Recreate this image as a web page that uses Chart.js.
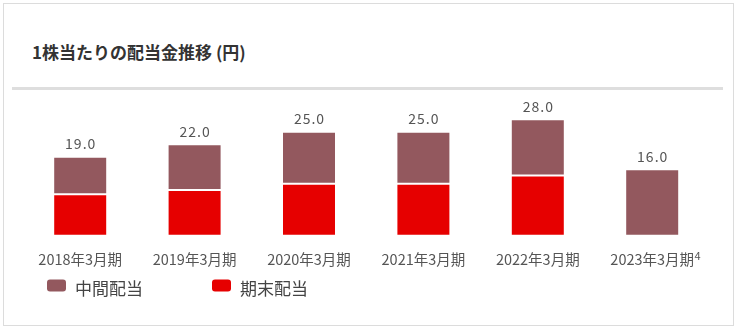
<!DOCTYPE html>
<html><head><meta charset="utf-8">
<script src="https://cdn.jsdelivr.net/npm/chart.js@4.4.1/dist/chart.umd.min.js"></script>
<style>
html,body{margin:0;padding:0;background:#fff;}
#wrap{position:relative;width:735px;height:329px;overflow:hidden;font-family:"Noto Sans CJK JP","Noto Sans",sans-serif;}
#card{position:absolute;left:3px;top:3px;width:731px;height:323px;border:1px solid #dcdcdc;box-sizing:border-box;}
#title{position:absolute;left:32px;top:40px;font-size:17px;line-height:24px;font-weight:bold;color:#333;white-space:nowrap;}
#sep{position:absolute;left:12px;top:87px;width:711px;height:3px;background:#dedede;}
#c{position:absolute;left:0;top:0;}
</style>
</head><body>
<div id="wrap">
  <div id="card"></div>
  <div id="title">1株当たりの配当金推移 (円)</div>
  <div id="sep"></div>
  <canvas id="c" width="735" height="329"></canvas>
</div>
<script>
const categories = ['2018年3月期', '2019年3月期', '2020年3月期', '2021年3月期', '2022年3月期', '2023年3月期'];
const footnoteMarks = ['', '', '', '', '', '4'];
const interimDividend = [9, 11, 12.5, 12.5, 13.5, 16];
const yearEndDividend = [10, 11, 12.5, 12.5, 14.5, null];
const seriesNames = { interim: '中間配当', yearEnd: '期末配当' };
const seriesColors = { interim: '#93585e', yearEnd: '#e60000' };

const FONT = '"Noto Sans CJK JP","Noto Sans",sans-serif';
const TICK_FONT_SIZE = 14.5;

const totalsPlugin = {
  id: 'totals',
  afterDatasetsDraw(chart) {
    const ctx = chart.ctx;
    const y = chart.scales.y, x = chart.scales.x;
    ctx.save();
    ctx.font = '14px ' + FONT;
    ctx.fillStyle = '#555';
    ctx.textAlign = 'center';
    ctx.textBaseline = 'middle';
    try { ctx.letterSpacing = '1px'; } catch (e) {}
    categories.forEach((c, i) => {
      const total = (interimDividend[i] || 0) + (yearEndDividend[i] || 0);
      ctx.fillText(total.toFixed(1), x.getPixelForValue(i) + 0.5, y.getPixelForValue(total) - 13);
    });
    ctx.restore();
  }
};

const footnotePlugin = {
  id: 'footnotes',
  afterDraw(chart) {
    const ctx = chart.ctx;
    const x = chart.scales.x;
    ctx.save();
    categories.forEach((c, i) => {
      if (!footnoteMarks[i]) return;
      ctx.font = TICK_FONT_SIZE + 'px ' + FONT;
      const w = ctx.measureText(c).width;
      ctx.font = '11px ' + FONT;
      ctx.fillStyle = '#555';
      ctx.textAlign = 'left';
      ctx.textBaseline = 'middle';
      ctx.fillText(footnoteMarks[i], x.getPixelForValue(i) + w / 2 + 0.5, 256);
    });
    ctx.restore();
  }
};

const legendPlugin = {
  id: 'customLegend',
  afterDraw(chart) {
    const ctx = chart.ctx;
    const items = chart.data.datasets.slice().reverse();
    let cx = 47;
    ctx.save();
    ctx.font = '17px ' + FONT;
    ctx.textBaseline = 'middle';
    items.forEach(ds => {
      ctx.fillStyle = ds.backgroundColor;
      ctx.beginPath();
      ctx.roundRect(cx, 279.5, 19, 12, 3);
      ctx.fill();
      ctx.fillStyle = '#444';
      ctx.textAlign = 'left';
      ctx.fillText(ds.label, cx + 28, 289);
      cx += 28 + ctx.measureText(ds.label).width + 69;
    });
    ctx.restore();
  }
};

new Chart(document.getElementById('c'), {
  type: 'bar',
  data: {
    labels: categories,
    datasets: [
      { label: seriesNames.yearEnd, data: yearEndDividend, backgroundColor: seriesColors.yearEnd,
        borderColor: '#ffffff', borderWidth: 1, borderSkipped: false },
      { label: seriesNames.interim, data: interimDividend, backgroundColor: seriesColors.interim,
        borderColor: '#ffffff', borderWidth: 1, borderSkipped: false }
    ]
  },
  options: {
    responsive: false,
    animation: false,
    devicePixelRatio: 1,
    layout: { padding: { left: 23, right: 25.6, top: 94.4, bottom: 53.3 } },
    datasets: { bar: { barPercentage: 0.472, categoryPercentage: 1 } },
    plugins: { legend: { display: false }, tooltip: { enabled: false }, title: { display: false } },
    scales: {
      x: {
        stacked: true,
        grid: { display: false, drawTicks: false },
        border: { display: false },
        ticks: { padding: 15, color: '#555', font: { size: TICK_FONT_SIZE, family: FONT } },
        afterFit(s) { s.height = 40; }
      },
      y: {
        stacked: true,
        display: false,
        min: 0, max: 34
      }
    }
  },
  plugins: [totalsPlugin, footnotePlugin, legendPlugin]
});
</script>
</body></html>
